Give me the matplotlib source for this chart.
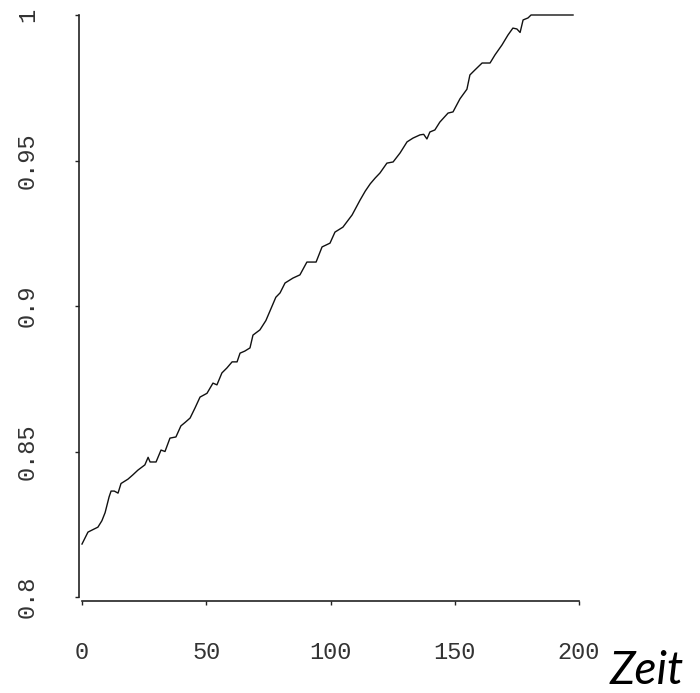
import matplotlib
matplotlib.use("Agg")
import matplotlib.pyplot as plt

# Time points and the corresponding values of the curve
zeit = [0, 2.4, 4.5, 6.4, 8.0, 9.3, 10.9, 11.7, 13.0, 14.5, 15.7, 18.5, 20.5, 22.5,
        25.3, 26.6, 27.4, 29.8, 31.8, 33.4, 35.4, 37.8, 39.8, 41.5, 43.5, 45.5,
        47.5, 50.3, 52.7, 54.3, 56.3, 58.3, 60.4, 62.4, 63.6, 65.5, 67.6, 68.8,
        71.6, 74.0, 76.0, 78.0, 79.7, 81.7, 84.9, 87.7, 90.5, 94.2, 96.6, 99.8,
        101.8, 105.0, 108.7, 111.9, 114.0, 116.0, 118.0, 119.9, 122.7, 125.2,
        128.0, 130.8, 133.2, 136.0, 137.5, 138.8, 140.0, 142.0, 144.0, 147.3,
        149.3, 152.1, 154.9, 156.1, 158.1, 161.0, 164.2, 166.2, 169.0, 171.4,
        173.4, 175.0, 176.3, 177.5, 179.5, 180.7, 190.0, 197.6]
wert = [0.8182, 0.8223, 0.8232, 0.8240, 0.8262, 0.8290, 0.8344, 0.8364, 0.8364,
        0.8357, 0.8390, 0.8405, 0.8420, 0.8436, 0.8454, 0.8480, 0.8464, 0.8464,
        0.8505, 0.8500, 0.8546, 0.8550, 0.8588, 0.8600, 0.8615, 0.8650, 0.8687,
        0.8700, 0.8735, 0.8729, 0.8770, 0.8787, 0.8808, 0.8808, 0.8838, 0.8845,
        0.8856, 0.8900, 0.8918, 0.8950, 0.8990, 0.9030, 0.9045, 0.9079, 0.9096,
        0.9107, 0.9151, 0.9151, 0.9203, 0.9216, 0.9254, 0.9271, 0.9313, 0.9364,
        0.9395, 0.9420, 0.9440, 0.9457, 0.9491, 0.9495, 0.9526, 0.9564, 0.9577,
        0.9588, 0.9590, 0.9574, 0.9598, 0.9605, 0.9632, 0.9663, 0.9667, 0.9712,
        0.9745, 0.9794, 0.9811, 0.9835, 0.9835, 0.9863, 0.9897, 0.9931, 0.9955,
        0.9952, 0.9940, 0.9983, 0.9990, 1.0, 1.0, 1.0]

x_ticks = [0, 50, 100, 150, 200]
x_labels = ["0", "50", "100", "150", "200"]
y_ticks = [0.8, 0.85, 0.9, 0.95, 1.0]
y_labels = ["0.8", "0.85", "0.9", "0.95", "1"]

fig = plt.figure(figsize=(7.0, 6.93), dpi=100)
ax = fig.add_axes([82 / 700, 96 / 693, 497 / 700, 582 / 693])

ax.plot(zeit, wert, color="#111111", linewidth=1.0, clip_on=False)

ax.set_xlim(0, 200)
ax.set_ylim(0.8, 1.0)

axis_col = "#222222"
for side in ("top", "right"):
    ax.spines[side].set_visible(False)
ax.spines["left"].set_position(("outward", 2))
ax.spines["bottom"].set_position(("outward", 3))
ax.spines["left"].set_bounds(0.8, 1.0)
ax.spines["bottom"].set_bounds(0, 200)
for side in ("left", "bottom"):
    ax.spines[side].set_color(axis_col)
    ax.spines[side].set_linewidth(1.2)

mono = {"family": "Liberation Mono", "size": 17, "color": "#333333"}
ax.set_xticks(x_ticks)
ax.set_xticklabels(x_labels, fontdict=mono)
ax.set_yticks(y_ticks)
ax.set_yticklabels(y_labels, fontdict=mono, rotation=90, va="center")
ax.tick_params(axis="both", length=3, width=1.0, color=axis_col)
ax.tick_params(axis="x", pad=26)
ax.tick_params(axis="y", pad=26)

fig.text(647 / 700, 1 / 693, "Zeit", family="Lato", style="italic",
         fontsize=33, color="black", ha="center", va="bottom")

fig.savefig("out.png", dpi=100, facecolor="white")
